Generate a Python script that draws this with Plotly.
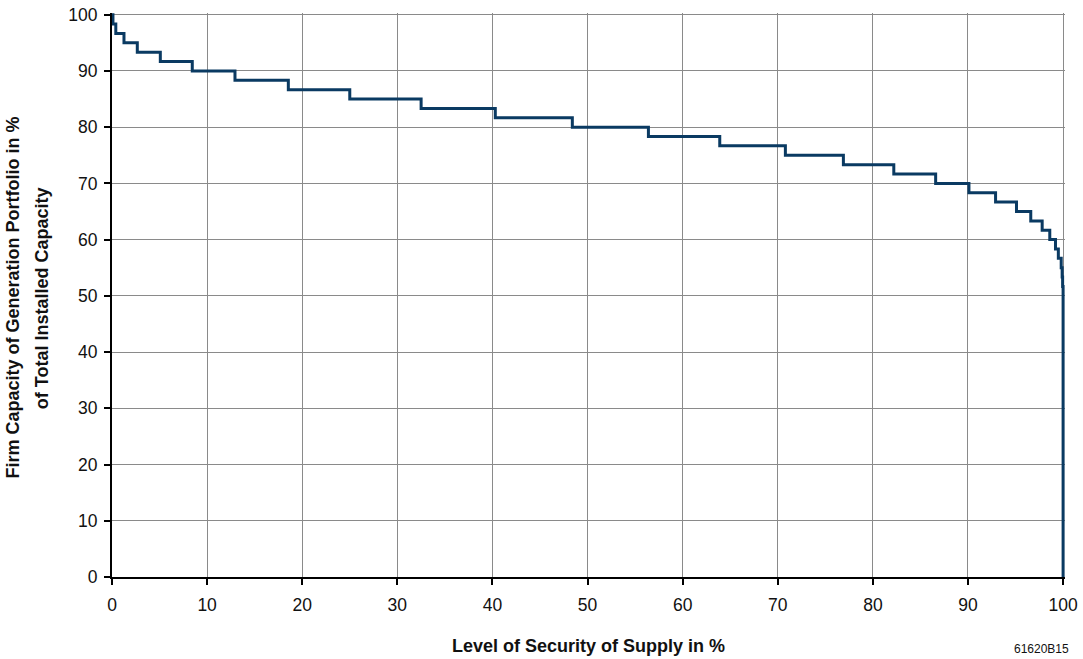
import plotly.graph_objects as go

# Step positions (level of security of supply, %) where the firm capacity drops
security_pct = [0, 0.1, 0.4, 1.26, 2.66, 5.08, 8.44, 12.93, 18.54, 25.0, 32.5,
                40.3, 48.4, 56.4, 63.9, 70.8, 76.9, 82.2, 86.6, 90.1, 92.9,
                95.1, 96.6, 97.8, 98.6, 99.2, 99.5, 99.8, 99.9, 99.95, 100]
# Firm capacity level (% of total installed capacity) from each step position onward
firm_capacity_pct = [100, 98.33, 96.67, 95.0, 93.33, 91.67, 90.0, 88.33, 86.67,
                     85.0, 83.33, 81.67, 80.0, 78.33, 76.67, 75.0, 73.33, 71.67,
                     70.0, 68.33, 66.67, 65.0, 63.33, 61.67, 60.0, 58.33, 56.67,
                     55.0, 53.33, 51.67, 0]

x_ticks = [0, 10, 20, 30, 40, 50, 60, 70, 80, 90, 100]
y_ticks = [0, 10, 20, 30, 40, 50, 60, 70, 80, 90, 100]

x_title = "Level of Security of Supply in %"
y_title_lines = ["Firm Capacity of Generation Portfolio in %", "of Total Installed Capacity"]
code_label = "61620B15"

FONT = "Liberation Sans, Arial, sans-serif"
GRID = "#8a8a8a"

fig = go.Figure()
fig.add_trace(go.Scatter(
    x=security_pct, y=firm_capacity_pct, mode="lines",
    line=dict(shape="hv", color="#0a3a62", width=3),
    showlegend=False, hoverinfo="skip",
))

axis_common = dict(
    showgrid=True, gridcolor=GRID, gridwidth=1,
    showline=True, linecolor="black", linewidth=2,
    ticks="outside", ticklen=6, tickwidth=2, tickcolor="black",
    zeroline=False, automargin=False,
    tickfont=dict(size=17.5, family=FONT, color="#111"),
)

# small headroom beyond 100 so the curve at the edges is not clipped
fig.update_layout(
    width=1083, height=659,
    margin=dict(l=112, r=18.1, t=13.3, b=82),
    paper_bgcolor="white", plot_bgcolor="white",
    font=dict(family=FONT, color="#111", size=16),
    xaxis=dict(range=[0, 100.2], tickvals=x_ticks, ticktext=[str(v) for v in x_ticks],
               ticklabelstandoff=5, **axis_common),
    yaxis=dict(range=[0, 100.3], tickvals=y_ticks, ticktext=[str(v) for v in y_ticks],
               ticklabelstandoff=3, **axis_common),
    annotations=[
        dict(text="<b>%s</b>" % x_title, xref="paper", yref="paper",
             x=0.5, y=-0.1228, xanchor="center", yanchor="middle", showarrow=False,
             font=dict(size=18, family=FONT, color="#111")),
        dict(text="<b>%s</b>" % y_title_lines[0], xref="paper", yref="paper",
             x=-0.1041, y=0.495, xanchor="center", yanchor="middle", textangle=-90,
             showarrow=False, font=dict(size=18, family=FONT, color="#111")),
        dict(text="<b>%s</b>" % y_title_lines[1], xref="paper", yref="paper",
             x=-0.0741, y=0.495, xanchor="center", yanchor="middle", textangle=-90,
             showarrow=False, font=dict(size=18, family=FONT, color="#111")),
        dict(text=code_label, xref="paper", yref="paper", x=1.006, y=-0.128,
             xanchor="right", yanchor="middle", showarrow=False,
             font=dict(size=12, family=FONT, color="#111")),
    ],
)

fig.write_html("out.html")
